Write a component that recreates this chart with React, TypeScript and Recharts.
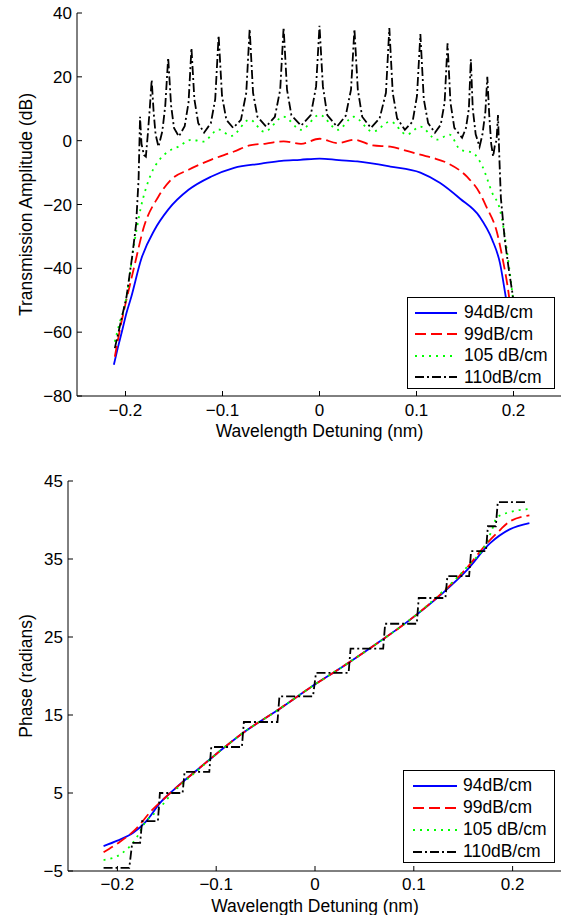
import React from 'react';
import { LineChart, Line, XAxis, YAxis, Legend } from 'recharts';

const seriesNames = ['94dB/cm', '99dB/cm', '105 dB/cm', '110dB/cm'];
const xTicks = [-0.2, -0.1, 0, 0.1, 0.2];
const ampTicks = [-80, -60, -40, -20, 0, 20, 40];
const phaseTicks = [-5, 5, 15, 25, 35, 45];

// transmission amplitude (dB) vs detuning (nm)
const amp94 = [
  [-0.212, -70.2], [-0.208, -65], [-0.204, -60.2], [-0.199, -54], [-0.194, -48.9],
  [-0.184, -37.3], [-0.17, -27.9], [-0.156, -21.6], [-0.135, -15.4], [-0.112, -11.3],
  [-0.088, -8.5], [-0.06, -7.2], [-0.039, -6.3], [-0.02, -6], [0, -5.6], [0.02, -6.1],
  [0.039, -6.5], [0.073, -8.1], [0.104, -10], [0.124, -13.2], [0.145, -18.2],
  [0.165, -23.8], [0.178, -31], [0.186, -38.3], [0.192, -48.9], [0.197, -58], [0.201, -68],
];
const amp99 = [
  [-0.211, -67.7], [-0.205, -58], [-0.199, -49.8], [-0.191, -39.5], [-0.181, -27],
  [-0.166, -17.5], [-0.153, -12.2], [-0.135, -9.1], [-0.112, -6], [-0.088, -3.4],
  [-0.072, -1.5], [-0.055, -0.9], [-0.037, -0.2], [-0.019, -1], [0, 0.6], [0.019, -0.8],
  [0.036, 0.3], [0.055, -1.5], [0.073, -1.9], [0.09, -3.2], [0.104, -4.4], [0.118, -5.5],
  [0.131, -6.9], [0.152, -11.3], [0.165, -16.3], [0.172, -20.7], [0.183, -28.8],
  [0.189, -37.3], [0.194, -45.8], [0.198, -55], [0.202, -65],
];
const amp105 = [
  [-0.211, -63], [-0.206, -57], [-0.201, -52], [-0.196, -43], [-0.192, -34], [-0.188, -27],
  [-0.184, -20.7], [-0.179, -15], [-0.173, -10], [-0.165, -6], [-0.156, -3.4],
  [-0.145, -1.8], [-0.132, 0.3], [-0.12, -0.3], [-0.104, 3.5], [-0.091, 1.5],
  [-0.072, 6.6], [-0.057, 2.8], [-0.037, 7.5], [-0.019, 3.4], [0, 8.1], [0.019, 3.4],
  [0.035, 7.5], [0.055, 2.8], [0.073, 6], [0.09, 1.9], [0.104, 4.4], [0.121, 0.3],
  [0.134, 1.9], [0.145, -2.8], [0.158, -3.8], [0.168, -8.1], [0.178, -16.3],
  [0.186, -21.6], [0.193, -34], [0.198, -45.8], [0.202, -56], [0.206, -65],
];
const amp110 = [
  [-0.211, -65], [-0.205, -57], [-0.199, -49], [-0.193, -36], [-0.189, -26], [-0.1865, -12],
  [-0.185, 7.5], [-0.1835, -1], [-0.181, -4.5], [-0.179, -5], [-0.177, 2], [-0.175, 10],
  [-0.173, 19], [-0.171, 9], [-0.169, 2], [-0.166, -1.9], [-0.162, 3], [-0.159, 11],
  [-0.156, 26], [-0.153, 11], [-0.15, 4], [-0.145, 1.3], [-0.139, 4.5], [-0.135, 12],
  [-0.132, 29], [-0.129, 13], [-0.125, 5.5], [-0.119, 2.5], [-0.112, 5.5], [-0.1075, 13],
  [-0.104, 33], [-0.1005, 14], [-0.096, 6.5], [-0.089, 4], [-0.081, 6.5], [-0.0755, 15],
  [-0.072, 35], [-0.0685, 15], [-0.064, 7.5], [-0.055, 4.4], [-0.046, 7.5], [-0.0405, 16],
  [-0.037, 35.5], [-0.0335, 16], [-0.029, 8], [-0.019, 4.7], [-0.009, 8], [-0.0035, 17],
  [0, 36], [0.0035, 17], [0.008, 8], [0.018, 4.4], [0.027, 7.8], [0.0325, 16],
  [0.036, 35], [0.0395, 16], [0.044, 7.5], [0.053, 4], [0.062, 7], [0.0685, 15],
  [0.072, 35.3], [0.0755, 15], [0.08, 7], [0.088, 3.4], [0.096, 6], [0.1005, 14],
  [0.104, 33.4], [0.1075, 13], [0.112, 5.5], [0.119, 2.5], [0.125, 5], [0.129, 12],
  [0.132, 30.5], [0.135, 12], [0.139, 4], [0.147, 0.9], [0.151, 4], [0.154, 10],
  [0.156, 25.5], [0.158, 10], [0.161, 2], [0.165, -1.9], [0.168, 2], [0.171, 9],
  [0.173, 20], [0.175, 8], [0.177, -1], [0.179, -5], [0.181, -1], [0.1825, 0],
  [0.184, 8], [0.1855, -6], [0.187, -18], [0.191, -31], [0.195, -40], [0.199, -48],
  [0.203, -58], [0.207, -67],
];

// phase (radians) vs detuning (nm)
const phase94 = [
  [-0.214, -1.8], [-0.2, -1.1], [-0.184, -0.1], [-0.17, 1.5], [-0.157, 3.7], [-0.143, 5.4],
  [-0.116, 8.3], [-0.099, 10.1], [-0.073, 12.7], [-0.038, 15.6], [-0.005, 18.5],
  [0.028, 21.2], [0.063, 24.2], [0.096, 27.2], [0.129, 30.6], [0.154, 33.6],
  [0.177, 37], [0.197, 38.8], [0.217, 39.6],
];
const phase99 = [
  [-0.214, -2.6], [-0.199, -1.4], [-0.182, 0.3], [-0.165, 2.8], [-0.15, 4.6],
  [-0.116, 8.3], [-0.099, 10.1], [-0.073, 12.7], [-0.038, 15.6], [-0.005, 18.5],
  [0.028, 21.2], [0.063, 24.2], [0.096, 27.2], [0.129, 30.7], [0.154, 33.9],
  [0.174, 37], [0.184, 38.3], [0.197, 39.8], [0.217, 40.6],
];
const phase105 = [
  [-0.214, -3.6], [-0.195, -2.7], [-0.182, -1], [-0.172, 1.2], [-0.159, 2.8], [-0.145, 4.9],
  [-0.116, 8.2], [-0.099, 10.1], [-0.073, 12.7], [-0.038, 15.6], [-0.005, 18.5],
  [0.028, 21.2], [0.063, 24.2], [0.096, 27.2], [0.129, 30.8], [0.154, 34],
  [0.174, 37.2], [0.179, 38.7], [0.184, 40.3], [0.197, 41], [0.217, 41.4],
];
const phase110 = [
  [-0.214, -4.6], [-0.188, -4.6], [-0.185, -1.4], [-0.177, -1.4], [-0.175, 1.4],
  [-0.159, 1.4], [-0.157, 5], [-0.134, 5], [-0.132, 7.7], [-0.107, 7.7], [-0.105, 10.9],
  [-0.074, 10.9], [-0.072, 14.1], [-0.038, 14.1], [-0.036, 17.4], [-0.002, 17.4],
  [0.001, 20.4], [0.034, 20.4], [0.036, 23.5], [0.069, 23.5], [0.071, 26.7],
  [0.103, 26.7], [0.105, 30], [0.132, 30], [0.134, 32.8], [0.156, 32.8], [0.158, 36],
  [0.173, 36], [0.175, 39.2], [0.183, 39.2], [0.185, 42.3], [0.215, 42.3],
];

const font = '"Liberation Sans", Arial, Helvetica, sans-serif';
const styles = [
  { stroke: '#0000ff', dash: undefined as string | undefined },
  { stroke: '#ff0000', dash: '11 5' },
  { stroke: '#00ff00', dash: '2 5' },
  { stroke: '#000000', dash: '9 3 2 3' },
];

const toRows = (pts: number[][]) => pts.map(([x, y]) => ({ x, y }));
const fmt = (v: number) => (v < 0 ? '\u2212' + Math.abs(v) : String(v));
const tickStyle = { fill: '#000', fontSize: 17, fontFamily: font };

const LegendBox = ({ width, height, rowH, padTop, lineLeft, lineLen, gap }: any) => (
  <div
    style={{
      width, height, boxSizing: 'border-box', border: '1px solid #000', background: '#fff',
      paddingTop: padTop, fontFamily: font, fontSize: 17.5, color: '#000',
    }}
  >
    {seriesNames.map((name, i) => (
      <div key={name} style={{ display: 'flex', alignItems: 'center', height: rowH }}>
        <svg width={lineLeft + lineLen + gap} height={6} style={{ flex: 'none' }}>
          <line
            x1={lineLeft} x2={lineLeft + lineLen} y1={3} y2={3}
            stroke={styles[i].stroke} strokeWidth={1.8} strokeDasharray={styles[i].dash}
          />
        </svg>
        <span style={{ whiteSpace: 'nowrap' }}>{name}</span>
      </div>
    ))}
  </div>
);

const Panel = ({ series, yTicks, yDomain, yLabel, yWidth, top, height, margin, xTickMargin, xAxisH, xLabelOffset, legend }: any) => (
  <div style={{ position: 'absolute', left: 0, top, width: 570, height }}>
    <LineChart width={570} height={height} margin={margin}>
      <XAxis
        type="number" dataKey="x" domain={[-0.25, 0.25]} ticks={xTicks} tickFormatter={fmt}
        height={xAxisH} tick={tickStyle} tickSize={-5} tickMargin={xTickMargin} stroke="#000"
        label={{ value: 'Wavelength Detuning (nm)', position: 'insideBottom', offset: xLabelOffset, fill: '#000', fontSize: 17.5, fontFamily: font }}
      />
      <XAxis
        xAxisId="t" orientation="top" type="number" dataKey="x" domain={[-0.25, 0.25]}
        ticks={xTicks} height={0} tick={false} tickSize={-5} stroke="#000"
      />
      <YAxis
        type="number" domain={yDomain} ticks={yTicks} tickFormatter={fmt} width={yWidth}
        tick={tickStyle} tickSize={-5} tickMargin={10} stroke="#000" interval={0}
        label={{ value: yLabel, angle: -90, position: 'insideLeft', offset: 26, fill: '#000', fontSize: 17.5, fontFamily: font, style: { textAnchor: 'middle' } }}
      />
      <YAxis
        yAxisId="r" orientation="right" type="number" domain={yDomain} ticks={yTicks}
        width={0} tick={false} tickSize={-5} stroke="#000" interval={0}
      />
      {series.map((pts: number[][], i: number) => (
        <Line
          key={seriesNames[i]} name={seriesNames[i]} data={toRows(pts)} dataKey="y"
          type={i === 3 ? 'linear' : 'monotone'} stroke={styles[i].stroke}
          strokeDasharray={styles[i].dash} strokeWidth={1.8} dot={false} activeDot={false}
          isAnimationActive={false}
        />
      ))}
      <Legend
        layout="vertical" align="center" verticalAlign="middle"
        wrapperStyle={{ left: legend.left, top: legend.top, width: legend.width }}
        content={() => <LegendBox {...legend} />}
      />
    </LineChart>
  </div>
);

export default function App() {
  return (
    <div style={{ position: 'absolute', left: 0, top: 0, width: 561, height: 915, overflow: 'hidden', background: '#fff' }}>
      <Panel
        series={[amp94, amp99, amp105, amp110]} yTicks={ampTicks} yDomain={[-80, 40]}
        yLabel="Transmission Amplitude (dB)" yWidth={77} top={0} height={441}
        margin={{ top: 13, right: 8, bottom: 0, left: 0 }} xTickMargin={13}
        xAxisH={45} xLabelOffset={4}
        legend={{ left: 407, top: 297, width: 148, height: 92, rowH: 21.5, padTop: 4, lineLeft: 7, lineLen: 42, gap: 7 }}
      />
      <Panel
        series={[phase94, phase99, phase105, phase110]} yTicks={phaseTicks} yDomain={[-5, 45]}
        yLabel="Phase (radians)" yWidth={68} top={445} height={470}
        margin={{ top: 36, right: 8, bottom: 0, left: 0 }} xTickMargin={12}
        xAxisH={44} xLabelOffset={3}
        legend={{ left: 403, top: 325, width: 152, height: 93, rowH: 22, padTop: 3.5, lineLeft: 9, lineLen: 44, gap: 6 }}
      />
    </div>
  );
}
